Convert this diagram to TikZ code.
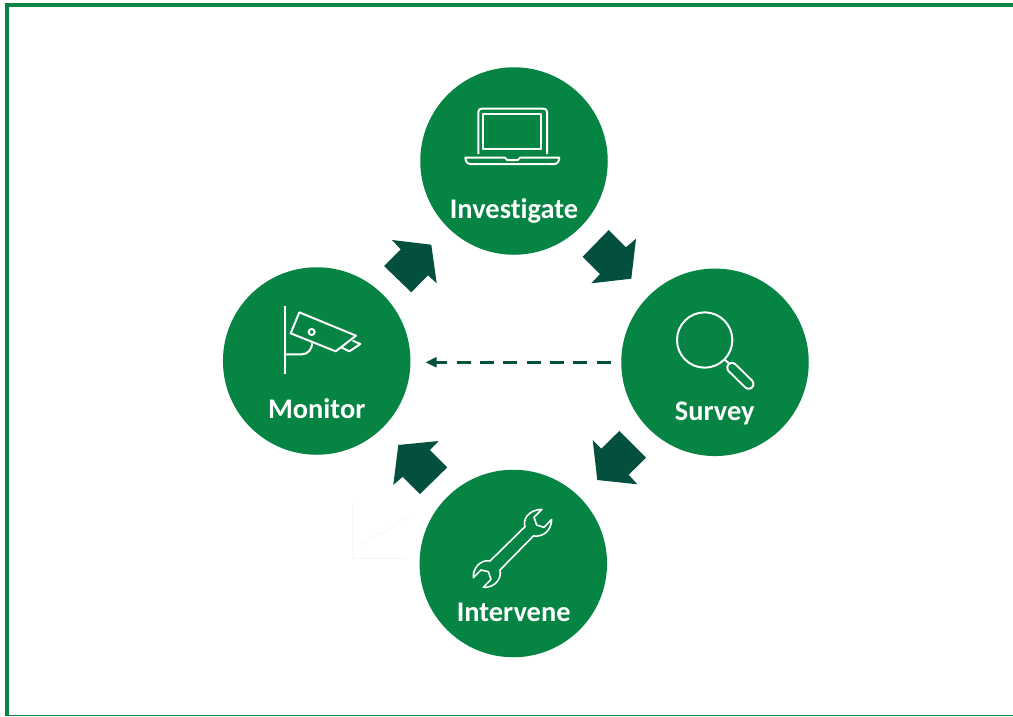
\documentclass[tikz,border=0pt]{standalone}
\usepackage{fontspec}
\setmainfont[Ligatures=NoCommon]{Carlito}
\definecolor{stepgreen}{HTML}{068443}
\definecolor{arrowteal}{HTML}{03503F}
\definecolor{ghostline}{HTML}{F6F6F6}
\tikzset{
  stage/.style={circle,fill=stepgreen,minimum size=187.5pt,inner sep=0pt,draw=none},
  stagelabel/.style={anchor=base,text=white,inner sep=0pt,font=\fontsize{28.4}{32}\selectfont\bfseries},
  blockarrow/.style={fill=arrowteal,draw=none},
  icon/.style={draw=white,line width=2pt,line join=round,fill=none},
  zoomgrid/.style={x=0.33333pt,y=-0.33333pt}
}
\begin{document}
\begin{tikzpicture}[x=1pt,y=-1pt]
\useasboundingbox (0,0) rectangle (1013,716);
\fill[white] (0,0) rectangle (1013,716);
% frame
\fill[stepgreen] (5,3.3) rectangle (1013,7);
\fill[stepgreen] (5,3.3) rectangle (9,716);
\fill[stepgreen] (5,714.8) rectangle (1013,716);
% faint chart remnant
\draw[ghostline,line width=0.7pt] (352.7,503) -- (352.7,558) -- (407,558);
\draw[ghostline,line width=0.7pt] (361.7,545) -- (375,535) -- (385,532) -- (408,517);
% stages
\node[stage] (investigate) at (514,161) {};
\node[stage] (survey) at (715,362.3) {};
\node[stage] (intervene) at (513.3,563.5) {};
\node[stage] (monitor) at (316.7,361) {};
% labels
\node[stagelabel] (tinv) at (514,218.5) {Investigate};
\node[stagelabel] (tsur) at (714.7,420) {Survey};
\node[stagelabel] (tint) at (513.7,621) {Intervene};
\node[stagelabel] (tmon) at (316.7,418.5) {Monitor};
% block arrows
\path[blockarrow] (608.7,230) -- (626,247.3) -- (636,238.7) -- (631.3,278.7) -- (591.3,283.3) -- (600,274) -- (582.7,256.7) -- cycle;
\path[blockarrow] (592.7,440) -- (601.3,448.7) -- (619.3,431) -- (646,457.7) -- (628.7,474.7) -- (637.3,484.3) -- (597.3,480) -- cycle;
\path[blockarrow] (438.7,441) -- (430,450) -- (447.3,467.3) -- (420,494) -- (402.7,476.7) -- (393.3,485) -- (398.3,445) -- cycle;
\path[blockarrow] (392,240) -- (431.3,244.7) -- (436.7,283.3) -- (428,275.3) -- (411.3,292.3) -- (384,266) -- (400.7,249.3) -- cycle;
% dashed connector
\draw[arrowteal,line width=3pt,dash pattern=on 14pt off 9.33pt,shorten <=10.5pt,shorten >=25.5pt]
  (survey.west) -- (survey.west -| monitor.east);
\fill[arrowteal] (425.7,362.3) -- (436.5,357) -- (436.5,367.6) -- cycle;
% laptop
\begin{scope}[shift={(420,60)},zoomgrid]
\draw[icon] (175,282) -- (175,156) .. controls (175,149) and (179,146) .. (186,146) -- (370,146) .. controls (377,146) and (381,149) .. (381,156) -- (381,282);
\draw[icon] (190,163) rectangle (363,267);
\draw[icon] (136,293) -- (255,293) -- (262,300) -- (293,300) -- (300,293) -- (418,293) .. controls (417,305) and (412,312) .. (402,312) -- (152,312) .. controls (142,312) and (137,305) .. (136,293) -- cycle;
\end{scope}
% camera
\begin{scope}[shift={(220,230)},zoomgrid]
\draw[icon] (194,228) -- (194,433);
\draw[icon] (194,373) -- (245,373) .. controls (264,373) and (275,358) .. (277,340);
\draw[icon] (238,247) -- (408,317) -- (347,364) -- (212,310) -- cycle;
\draw[icon] (275,306) circle[radius=9];
\draw[icon] (362,351) -- (388,364) -- (421,342) -- (398,332);
\end{scope}
% magnifier
\begin{scope}[shift={(580,270)},zoomgrid]
\draw[icon] (374,210) circle[radius=83];
\draw[icon] (433,268) -- (447,280);
\draw[white,line width=11.5pt,line cap=round] (456,293) -- (506,342);
\draw[stepgreen,line width=7.5pt,line cap=round] (456,293) -- (506,342);
\end{scope}
% wrench
\begin{scope}[shift={(340,430)},zoomgrid]
\draw[icon,line width=1.6pt] (555,290) .. controls (549,272) and (560,240) .. (606,238)
  -- (582,262) -- (590,285) -- (612,292) -- (635,268)
  .. controls (634,300) and (612,322) .. (580,318)
  -- (480,420) .. controls (486,445) and (465,474) .. (430,472)
  -- (453,448) -- (445,425) -- (423,420) -- (400,443)
  .. controls (398,415) and (422,387) .. (450,393) -- cycle;
\end{scope}
\end{tikzpicture}
\end{document}
